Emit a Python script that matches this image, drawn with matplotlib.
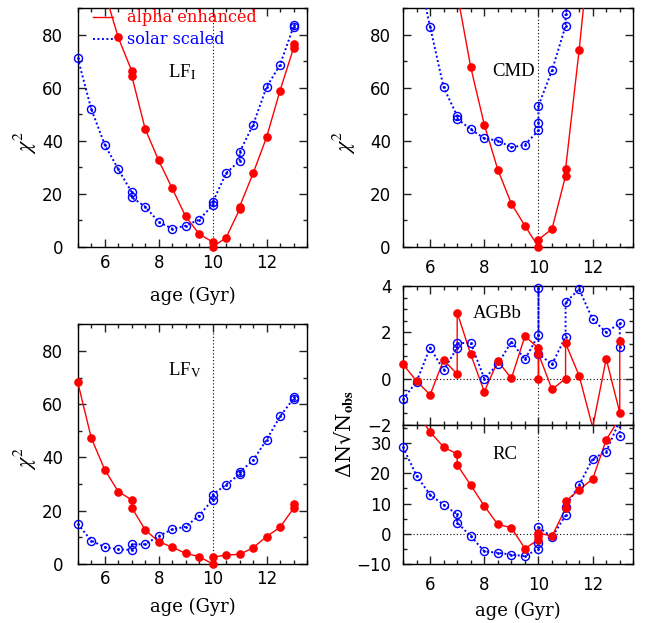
import matplotlib
matplotlib.use('Agg')
import matplotlib.pyplot as plt
from matplotlib.ticker import MultipleLocator
from matplotlib.lines import Line2D
import numpy as np

plt.rcParams['font.family'] = ['DejaVu Sans']
plt.rcParams['mathtext.fontset'] = 'stix'
plt.rcParams['axes.unicode_minus'] = True

RED = '#ff0000'
BLUE = '#0000ff'

# ---------------- data ----------------
# LF_I panel
lfi_red_age = [6.0, 6.5, 7, 7, 7.5, 8, 8.5, 9, 9.5, 10, 10, 10.5, 11, 11, 11.5, 12, 12.5, 13, 13]
lfi_red_chi = [96, 78.9, 66.3, 64.5, 44.4, 32.6, 22.1, 11.5, 4.9, 1.9, 0.0, 3.5, 14.2, 15.2, 27.7, 41.3, 58.9, 74.9, 76.4]
lfi_blue_age = [5, 5.5, 6, 6.5, 7, 7, 7.5, 8, 8.5, 9, 9.5, 10, 10, 10.5, 11, 11, 11.5, 12, 12.5, 13, 13]
lfi_blue_chi = [71.1, 51.9, 38.5, 29.3, 20.6, 18.7, 15.2, 9.4, 6.9, 8.0, 10.3, 15.7, 16.8, 27.8, 32.5, 35.7, 46.0, 60.2, 68.6, 83.0, 83.5]

# CMD panel
cmd_red_age = [7, 7.5, 8, 8.5, 9, 9.5, 10, 10, 10.5, 11, 11, 11.5, 12]
cmd_red_chi = [95.6, 67.7, 46.1, 29.1, 16.3, 8.0, 0.0, 2.8, 6.8, 26.8, 29.3, 74.1, 124]
cmd_blue_age = [5.5, 6, 6.5, 7, 7, 7.5, 8, 8.5, 9, 9.5, 10, 10, 10, 10.5, 11, 11, 11.5]
cmd_blue_chi = [106, 83.0, 60.1, 49.3, 48.3, 44.3, 40.9, 40.1, 37.5, 38.5, 43.9, 46.6, 53.2, 66.5, 83.3, 87.8, 110]

# LF_V panel
lfv_red_age = [5, 5.5, 6, 6.5, 7, 7, 7.5, 8, 8.5, 9, 9.5, 10, 10, 10.5, 11, 11.5, 12, 12.5, 13, 13]
lfv_red_chi = [68.2, 47.3, 35.4, 27.2, 24.1, 21.2, 12.8, 8.4, 6.3, 4.0, 2.8, 0.0, 2.5, 3.4, 3.6, 6.1, 10.3, 13.8, 20.9, 22.6]
lfv_blue_age = [5, 5.5, 6, 6.5, 7, 7, 7.5, 8, 8.5, 9, 9.5, 10, 10, 10.5, 11, 11, 11.5, 12, 12.5, 13, 13]
lfv_blue_chi = [15.0, 8.8, 6.3, 5.5, 5.3, 7.4, 7.4, 10.5, 13.0, 14.0, 18.2, 24.1, 26.0, 29.8, 33.7, 34.5, 38.9, 46.6, 55.4, 62.1, 62.7]

# AGBb panel
agb_red_age = [5, 5.5, 6, 6.5, 7, 7, 7.5, 8, 8.5, 9, 9.5, 10, 10, 10, 10.5, 11, 11, 11.5, 12, 12.5, 13, 13]
agb_red_dn = [0.62, -0.10, -0.70, 0.81, 0.19, 2.85, 1.05, -0.56, 0.76, 0.01, 1.84, 1.31, 0.0, 1.07, -0.46, 0.0, 1.53, 0.13, -2.1, 0.86, -1.47, 1.64]
agb_blue_age = [5, 5.5, 6, 6.5, 7, 7, 7.5, 8, 8.5, 9, 9.5, 10, 10, 10, 10.5, 11, 11, 11.5, 12, 12.5, 13, 13]
agb_blue_dn = [-0.89, -0.13, 1.34, 0.37, 1.34, 1.53, 1.55, 0.0, 0.62, 1.60, 0.83, 1.89, 3.9, 1.07, 0.62, 1.81, 3.29, 3.86, 2.56, 2.0, 2.39, 1.38]

# RC panel
rc_red_age = [5.5, 6, 6.5, 7, 7, 7.5, 8, 8.5, 9, 9.5, 10, 10, 10, 10.5, 11, 11, 11.5, 12, 12.5, 13]
rc_red_dn = [40, 33.7, 28.7, 26.4, 22.8, 16.1, 9.2, 3.1, 2.0, -4.9, -1.9, -0.8, 0.3, -0.8, 8.4, 10.7, 14.6, 18.1, 31.1, 38.4]
rc_blue_age = [5, 5.5, 6, 6.5, 7, 7, 7.5, 8, 8.5, 9, 9.5, 10, 10, 10, 10.5, 11, 11, 11.5, 12, 12.5, 13, 13]
rc_blue_dn = [28.7, 19.2, 12.9, 9.6, 6.4, 3.7, -0.8, -5.8, -6.3, -6.9, -7.4, -5.0, -3.0, 2.2, -1.1, 6.1, 8.9, 16.1, 24.8, 27.2, 37.5, 32.2]

legend_labels = ['alpha enhanced', 'solar scaled']

# ---------------- figure ----------------
W, H = 648, 623
fig = plt.figure(figsize=(W / 100, H / 100), dpi=100)


def px_axes(l, t, r, b):
    return fig.add_axes([l / W, 1 - b / H, (r - l) / W, (b - t) / H])


ax1 = px_axes(77.8, 8, 307, 247)
ax2 = px_axes(403, 8, 633.3, 247)
ax3 = px_axes(77.8, 324.3, 307, 564)
ax4 = px_axes(403, 286, 633.3, 425)
ax5 = px_axes(403, 425, 633.3, 564)


def style(ax, ylim, ymaj, ymin, xlabels=True, xpad=5, ypad=10):
    ax.set_xlim(5, 13.5)
    ax.set_ylim(*ylim)
    ax.xaxis.set_major_locator(MultipleLocator(2))
    ax.xaxis.set_minor_locator(MultipleLocator(0.5))
    ax.yaxis.set_major_locator(MultipleLocator(ymaj))
    ax.yaxis.set_minor_locator(MultipleLocator(ymin))
    ax.tick_params(which='both', direction='in', top=True, right=True,
                   labelsize=12, width=1.0, color='#222222')
    ax.tick_params(which='major', length=5.5)
    ax.tick_params(which='minor', length=3)
    ax.tick_params(axis='x', pad=xpad, labelbottom=xlabels)
    ax.tick_params(axis='y', pad=ypad)
    for s in ax.spines.values():
        s.set_linewidth(1.0)
    ax.axvline(10, color='black', ls=(0, (1, 2)), lw=0.8, zorder=1)


def series(ax, x, y, color, solid):
    x = np.asarray(x, float)
    y = np.asarray(y, float)
    if solid:
        ax.plot(x, y, '-', color=color, lw=1.0, zorder=3)
    else:
        ax.plot(x, y, ls=(0, (1, 1.3)), color=color, lw=1.4, zorder=3)
    lo, hi = ax.get_ylim()
    m = (y >= lo) & (y <= hi)
    if solid:
        ax.plot(x[m], y[m], 'o', ms=5.2, color=color, mec=color, ls='none',
                clip_on=False, zorder=5)
    else:
        ax.plot(x[m], y[m], 'o', ms=5.8, mfc='none', mec=color, mew=1.0,
                ls='none', clip_on=False, zorder=4)
        ax.plot(x[m], y[m], '.', ms=2, color=color, ls='none',
                clip_on=False, zorder=4)


style(ax1, (0, 90), 20, 10, True, xpad=4.7, ypad=10.5)
style(ax2, (0, 90), 20, 10, True, xpad=8.8, ypad=8.8)
style(ax3, (0, 90), 20, 10, True, xpad=4.0, ypad=10.5)
style(ax4, (-2, 4), 2, 0.5, False, xpad=9, ypad=8.4)
style(ax5, (-10, 36), 10, 5, True, xpad=8.8, ypad=8.4)

for ax in (ax4, ax5):
    ax.axhline(0, color='black', ls=(0, (1, 2)), lw=0.8, zorder=1)

series(ax1, lfi_blue_age, lfi_blue_chi, BLUE, False)
series(ax1, lfi_red_age, lfi_red_chi, RED, True)
series(ax2, cmd_blue_age, cmd_blue_chi, BLUE, False)
series(ax2, cmd_red_age, cmd_red_chi, RED, True)
series(ax3, lfv_blue_age, lfv_blue_chi, BLUE, False)
series(ax3, lfv_red_age, lfv_red_chi, RED, True)
series(ax4, agb_blue_age, agb_blue_dn, BLUE, False)
series(ax4, agb_red_age, agb_red_dn, RED, True)
series(ax5, rc_blue_age, rc_blue_dn, BLUE, False)
series(ax5, rc_red_age, rc_red_dn, RED, True)

# axis labels
for ax in (ax1, ax2, ax3):
    ax.set_ylabel(r'$\chi^2$', fontsize=16)
ax1.yaxis.set_label_coords(-0.17, 0.44)
ax3.yaxis.set_label_coords(-0.17, 0.442)
ax2.yaxis.set_label_coords(-0.195, 0.44)

for ax, ypos in ((ax1, -0.167), (ax3, -0.142), (ax5, -0.271)):
    ax.set_xlabel('age (Gyr)', fontfamily='DejaVu Serif', fontsize=13)
    ax.xaxis.set_label_coords(0.5, ypos)

fig.text(356 / W, 1 - 434 / H, '\u0394N\u221aN$_{\\mathbf{obs}}$',
         rotation=90, ha='center', va='bottom', rotation_mode='anchor',
         fontsize=15, fontfamily='DejaVu Serif')

# panel labels
lab = dict(fontfamily='Liberation Serif', fontsize=13.5, va='baseline', ha='left')
ax1.text(0.393, 0.711, r'LF$_{\rm I}$', transform=ax1.transAxes, **lab)
ax2.text(0.389, 0.715, 'CMD', transform=ax2.transAxes, **lab)
ax3.text(0.393, 0.788, r'LF$_{\rm V}$', transform=ax3.transAxes, **lab)
ax4.text(0.303, 0.768, 'AGBb', transform=ax4.transAxes, **lab)
ax5.text(0.389, 0.753, 'RC', transform=ax5.transAxes, **lab)

# legend
handles = [Line2D([], [], color=RED, lw=1.0),
           Line2D([], [], color=BLUE, lw=1.4, ls=(0, (1, 1.3)))]
leg = ax1.legend(handles, legend_labels, loc='upper left',
                 bbox_to_anchor=(0.068, 0.995), frameon=False, borderpad=0,
                 borderaxespad=0, handlelength=1.2, handletextpad=0.9,
                 labelspacing=0.32,
                 prop={'family': 'DejaVu Serif', 'size': 11.6})
for t, c in zip(leg.get_texts(), [RED, BLUE]):
    t.set_color(c)

fig.savefig('out.png', dpi=100)
